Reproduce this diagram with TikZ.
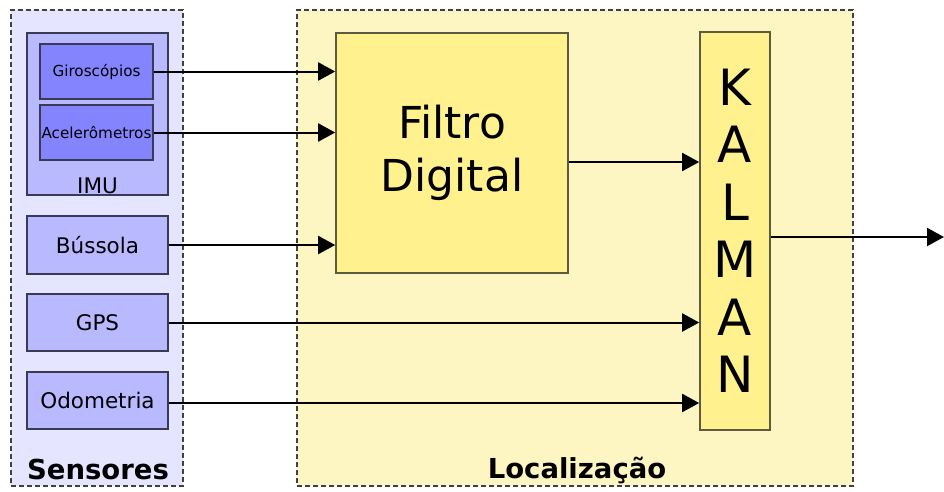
\documentclass[tikz,border=0pt]{standalone}
\usepackage{fontspec}
\setmainfont{DejaVu Sans}
\usetikzlibrary{arrows.meta}
\definecolor{sensbg}{HTML}{E5E5FF}
\definecolor{imubg}{HTML}{B9B9FF}
\definecolor{subbg}{HTML}{8484FF}
\definecolor{locbg}{HTML}{FEF6C2}
\definecolor{procbg}{HTML}{FFF28E}
\definecolor{blueedge}{HTML}{3A3A55}
\definecolor{yellowedge}{HTML}{5C5A40}
\tikzset{
  group/.style={draw=black!75, dashed, dash pattern=on 5pt off 3pt, line width=1.4pt, inner sep=0pt},
  sensor/.style={draw=blueedge, fill=imubg, line width=1.6pt, inner sep=0pt, minimum width=141pt, font=\fontsize{21.5}{25}\selectfont},
  subsensor/.style={draw=blueedge, fill=subbg, line width=1.6pt, inner sep=0pt, minimum width=113pt, minimum height=55pt, font=\fontsize{15.2}{18}\selectfont},
  proc/.style={draw=yellowedge, fill=procbg, line width=1.6pt, inner sep=0pt, align=center},
  grouplabel/.style={font=\bfseries\fontsize{27.5}{32}\selectfont, anchor=base},
  arr/.style={line width=2pt, -{Triangle[length=17pt,width=18pt]}}
}
\begin{document}
\begin{tikzpicture}[x=1pt, y=-1pt]
  \useasboundingbox (0,0) rectangle (944,491);

  % group frames
  \node[group, fill=sensbg, minimum width=172pt, minimum height=476pt] (sens) at (97,248) {};
  \node[group, fill=locbg, minimum width=556pt, minimum height=476pt] (loc) at (575,248) {};
  \node[grouplabel] (senslabel) at (98,479) {Sensores};
  \node[grouplabel] (loclabel) at (577,478) {Localização};

  % sensors
  \node[sensor, minimum height=162pt] (imu) at (97.5,114) {};
  \node[font=\fontsize{21.5}{25}\selectfont, anchor=base] (imulabel) at (97.5,193) {IMU};
  \node[subsensor] (giro) at (96.5,71.5) {Giroscópios};
  \node[subsensor] (acel) at (96.5,132.5) {Acelerômetros};
  \node[sensor, minimum height=58pt] (bus) at (97.5,245) {Bússola};
  \node[sensor, minimum height=57pt] (gps) at (97.5,322.5) {GPS};
  \node[sensor, minimum height=57pt] (odo) at (97.5,400.5) {Odometria};

  % processing blocks
  \node[proc, minimum width=232pt, minimum height=240pt, font=\fontsize{44}{55}\selectfont] (filtro) at (452,153) {Filtro\\[-2pt]Digital};
  \node[proc, minimum width=70pt, minimum height=398pt, font=\fontsize{50}{57.5}\selectfont] (kalman) at (735,231) {K\\A\\L\\M\\A\\N};

  % connections
  \draw[arr] (giro.east) -- (giro.east -| filtro.west);
  \draw[arr] (acel.east) -- (acel.east -| filtro.west);
  \draw[arr] (bus.east) -- (bus.east -| filtro.west);
  \coordinate (fk) at (0,162);
  \draw[arr] (fk -| filtro.east) -- (fk -| kalman.west);
  \draw[arr] (gps.east) -- (gps.east -| kalman.west);
  \draw[arr] (odo.east |- 0,403) -- (kalman.west |- 0,403);
  \coordinate (out) at (944,237);
  \draw[arr] (out -| kalman.east) -- (out);
\end{tikzpicture}
\end{document}
